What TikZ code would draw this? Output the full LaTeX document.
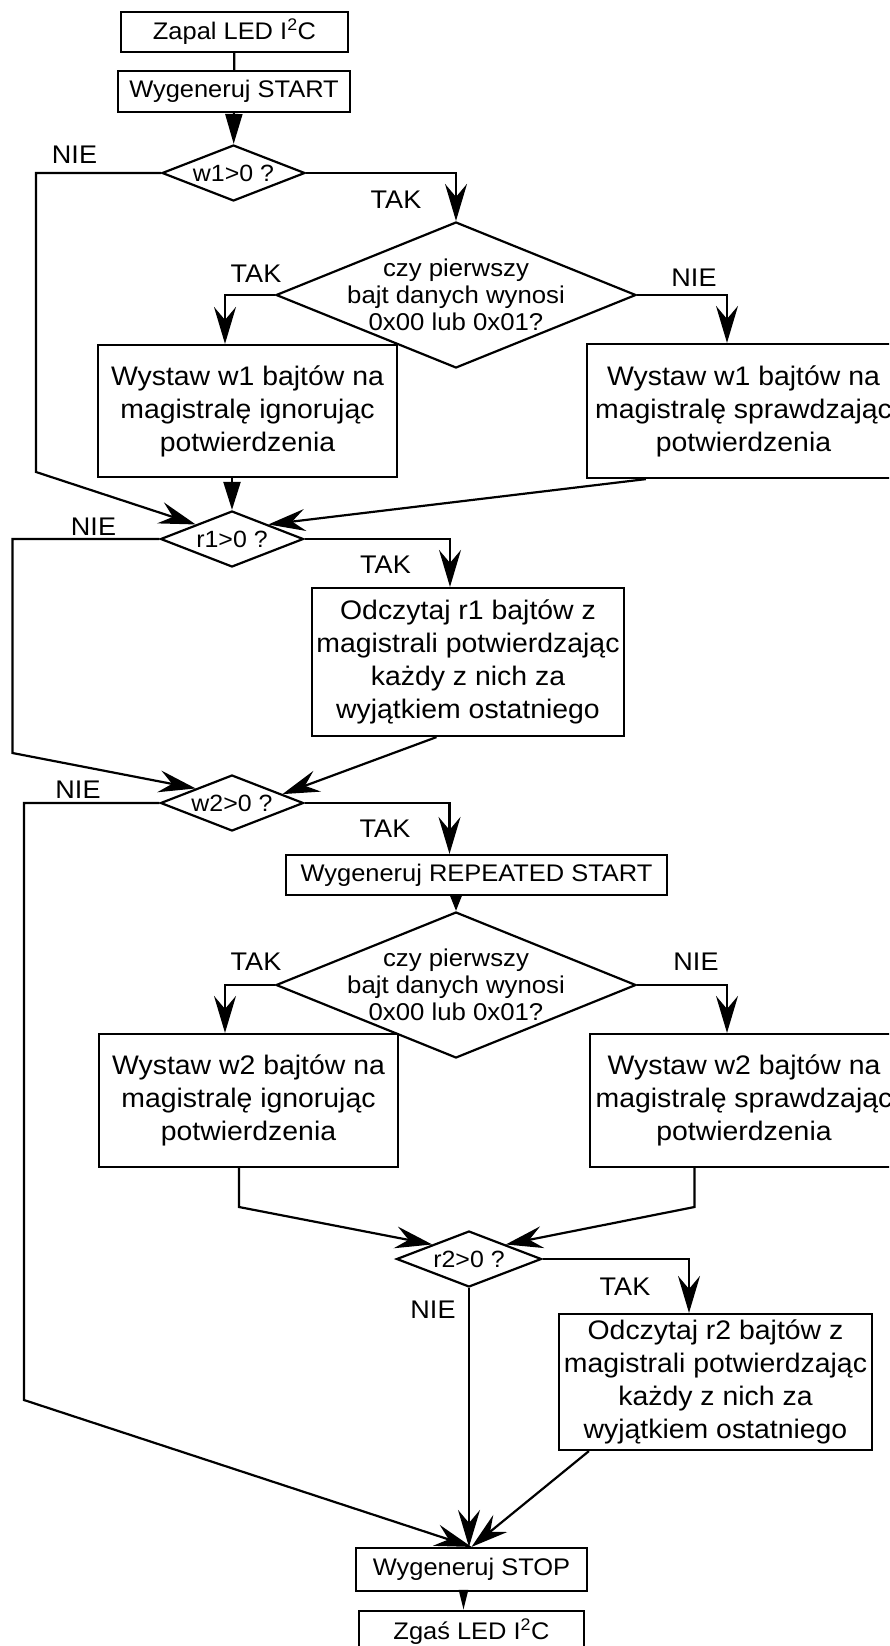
\documentclass[tikz,border=0pt]{standalone}
\usepackage{fontspec}
\setmainfont{Liberation Sans}[FakeStretch=1.06]
\usetikzlibrary{shapes.geometric,arrows.meta}
\tikzset{
  box/.style={draw,line width=2.2pt,inner sep=0pt,align=center,font=\fontsize{26.8}{33}\selectfont},
  sbox/.style={box,font=\fontsize{24}{28}\selectfont},
  dec/.style={diamond,draw,line width=2.2pt,inner sep=0pt,shape aspect=2.5,minimum width=143pt,minimum height=56pt,font=\fontsize{23.5}{27}\selectfont},
  bigdec/.style={diamond,draw,line width=2.2pt,inner sep=0pt,minimum width=360pt,minimum height=146pt},
  dtext/.style={align=center,inner sep=0pt,font=\fontsize{24.3}{27}\selectfont},
  lbl/.style={inner sep=0pt,font=\fontsize{25.5}{28}\selectfont},
  arr/.style={line width=2.2pt,-{Stealth[length=37pt,width=22pt,inset=13pt]}},
  tri/.style 2 args={line width=2.2pt,-{Triangle[length=#1,width=#2]}},
  ln/.style={line width=2.2pt},
}
\begin{document}
\begin{tikzpicture}[x=1pt,y=-1pt]
\useasboundingbox (0,0) rectangle (889,1646);
\clip (0,0) rectangle (889,1646);
% bloki
\node[sbox,minimum width=227pt,minimum height=40pt] (zapal) at (234.5,32) {Zapal LED I\textsuperscript{2}C};
\node[sbox,minimum width=232pt,minimum height=41pt] (start) at (234,91.5) {Wygeneruj START};
\node[dec] (w1) at (233.5,173) {w1>0 ?};
\node[bigdec] (d1) at (456,295) {};
\node[dtext] (t1) at (d1) {czy pierwszy\\bajt danych wynosi\\0x00 lub 0x01?};
\node[box,minimum width=299pt,minimum height=132pt] (wl1) at (247.5,411) {Wystaw w1 bajtów na\\magistralę ignorując\\potwierdzenia};
\node[box,minimum width=313pt,minimum height=134pt] (wr1) at (743.5,411) {Wystaw w1 bajtów na\\magistralę sprawdzając\\potwierdzenia};
\node[dec] (r1) at (232,539) {r1>0 ?};
\node[box,minimum width=312pt,minimum height=148pt] (odc1) at (468,662) {Odczytaj r1 bajtów z\\magistrali potwierdzając\\każdy z nich za\\wyjątkiem ostatniego};
\node[dec] (w2) at (232,803) {w2>0 ?};
\node[sbox,minimum width=381pt,minimum height=40pt] (rstart) at (476.5,875) {Wygeneruj REPEATED START};
\node[bigdec] (d2) at (456,985) {};
\node[dtext] (t2) at (d2) {czy pierwszy\\bajt danych wynosi\\0x00 lub 0x01?};
\node[box,minimum width=299pt,minimum height=133pt] (wl2) at (248.5,1100.5) {Wystaw w2 bajtów na\\magistralę ignorując\\potwierdzenia};
\node[box,minimum width=308pt,minimum height=133pt] (wr2) at (744,1100.5) {Wystaw w2 bajtów na\\magistralę sprawdzając\\potwierdzenia};
\node[dec,minimum width=145pt] (r2) at (469,1259) {r2>0 ?};
\node[box,minimum width=313pt,minimum height=136pt] (odc2) at (715.5,1382) {Odczytaj r2 bajtów z\\magistrali potwierdzając\\każdy z nich za\\wyjątkiem ostatniego};
\node[sbox,minimum width=231pt,minimum height=43pt] (stop) at (471.5,1569.5) {Wygeneruj STOP};
\node[sbox,minimum width=225pt,minimum height=42pt] (zgas) at (471.5,1632) {Zgaś LED I\textsuperscript{2}C};
% etykiety
\node[lbl] (nie1) at (74.5,155) {NIE};
\node[lbl] (tak1) at (396,200) {TAK};
\node[lbl] (tak2) at (256,274) {TAK};
\node[lbl] (nie2) at (694,278) {NIE};
\node[lbl] (nie3) at (93.5,527) {NIE};
\node[lbl] (tak3) at (385.5,565) {TAK};
\node[lbl] (nie4) at (78,790) {NIE};
\node[lbl] (tak4) at (385,829) {TAK};
\node[lbl] (tak5) at (256,962) {TAK};
\node[lbl] (nie5) at (696,962) {NIE};
\node[lbl] (tak6) at (625,1287) {TAK};
\node[lbl] (nie6) at (433,1310) {NIE};
% punkty zalaman
\coordinate (nw1) at (36,472);
\coordinate (nr1) at (12.5,753);
\coordinate (nw2) at (24,1400);
\coordinate (bl2) at (239,1207);
\coordinate (br2) at (694.5,1207);
% polaczenia
\draw[ln] (zapal) -- (start);
\draw[tri={30pt}{17pt}] (start) -- (w1);
\draw[arr] (w1.west) -| (nw1) -- (r1.north west);
\draw[arr] (w1.east) -| (d1.north);
\draw[arr] (d1.west) -| ([xshift=-22.5pt]wl1.north);
\draw[arr] (d1.east) -| ([xshift=-16.5pt]wr1.north);
\draw[tri={28pt}{17pt}] (wl1.south -| r1.north) -- (r1.north);
\draw[arr] ([xshift=60pt]wr1.south west) -- (r1.north east);
\draw[arr] (r1.west) -| (nr1) -- (w2.north west);
\draw[arr] (r1.east) -| ([xshift=-18pt]odc1.north);
\draw[arr] ([xshift=-31.5pt]odc1.south) -- (w2.10);
\draw[arr] (w2.west) -| (nw2) -- (stop.north);
\draw[arr] (w2.east) -| ([xshift=-27pt]rstart.north);
\draw[tri={16pt}{12pt}] (rstart.south -| d2.north) -- (d2.north);
\draw[arr] (d2.west) -| ([xshift=-23.5pt]wl2.north);
\draw[arr] (d2.east) -| ([xshift=-17pt]wr2.north);
\draw[arr] (wl2.south -| bl2) -- (bl2) -- (r2.north west);
\draw[arr] (wr2.south -| br2) -- (br2) -- (r2.north east);
\draw[arr] (r2.east) -| ([xshift=-26.5pt]odc2.north);
\draw[arr] (r2.south) -- (r2.south |- stop.north);
\draw[arr] ([xshift=31pt]odc2.south west) -- (stop.north);
\draw[tri={20pt}{9pt}] ([xshift=-8pt]stop.south) -- ([xshift=-8pt]zgas.north);
\end{tikzpicture}
\end{document}
